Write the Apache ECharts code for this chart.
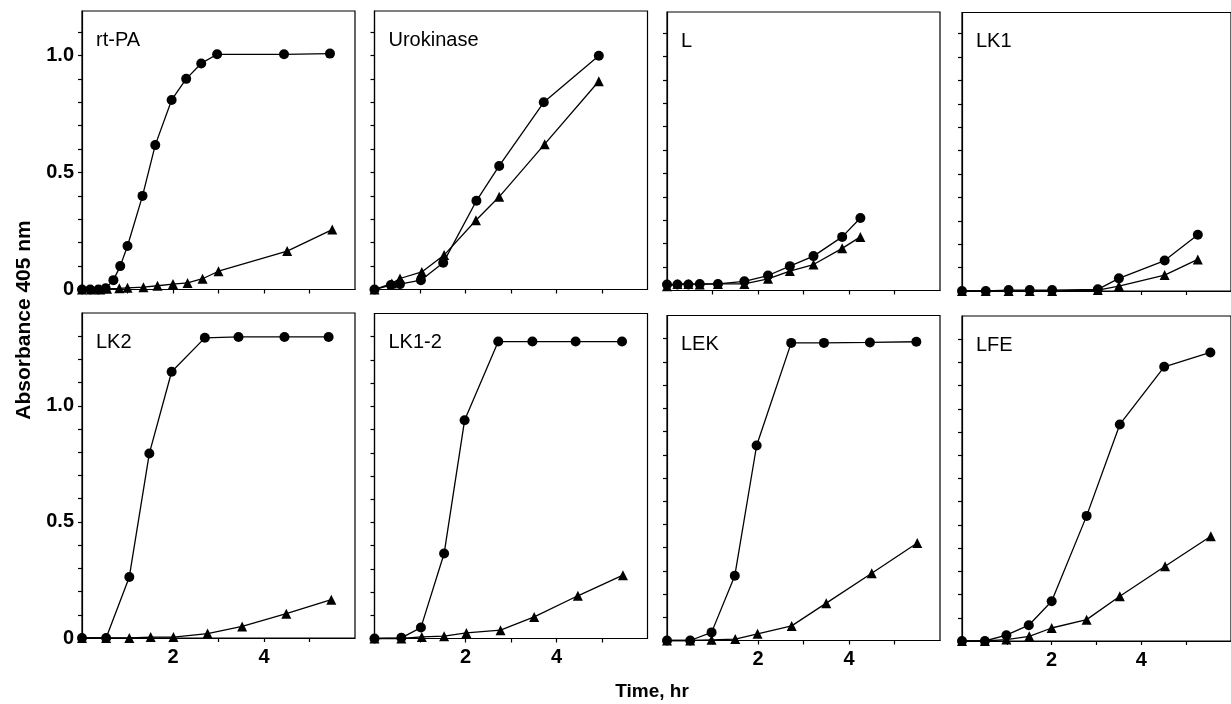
<!DOCTYPE html>
<html>
<head>
<meta charset="utf-8">
<title>Absorbance 405 nm vs time</title>
<script src="https://cdn.jsdelivr.net/npm/echarts@6.0.0/dist/echarts.min.js"></script>
<style>
  html, body { margin: 0; padding: 0; background: #fff; }
  #chart { width: 1231px; height: 704px; }
</style>
</head>
<body>
<div id="chart"></div>
<script>
// panel names, row by row
const panelNames = ['rt-PA', 'Urokinase', 'L', 'LK1', 'LK2', 'LK1-2', 'LEK', 'LFE'];

// time (hr) and absorbance, circles and triangles for each panel
const rtpaCircleT = [0, 0.18, 0.36, 0.52, 0.69, 0.84, 1.0, 1.33, 1.61, 1.97, 2.29, 2.62, 2.97, 4.44, 5.45];
const rtpaCircleV = [0, 0, 0, 0.005, 0.04, 0.10, 0.186, 0.40, 0.617, 0.81, 0.90, 0.966, 1.005, 1.005, 1.008];
const rtpaTriT = [0, 0.2, 0.4, 0.55, 0.82, 1.0, 1.35, 1.66, 2.0, 2.32, 2.65, 3.0, 4.51, 5.5];
const rtpaTriV = [0, 0, 0, 0.003, 0.005, 0.007, 0.01, 0.016, 0.023, 0.028, 0.046, 0.078, 0.164, 0.256];

const urokCircleT = [0, 0.36, 0.56, 1.02, 1.51, 2.24, 2.74, 3.72, 4.93];
const urokCircleV = [0, 0.019, 0.023, 0.04, 0.114, 0.379, 0.528, 0.80, 0.999];
const urokTriT = [0, 0.38, 0.56, 1.04, 1.53, 2.23, 2.74, 3.74, 4.93];
const urokTriV = [0, 0.026, 0.047, 0.075, 0.147, 0.296, 0.396, 0.621, 0.89];

const lCircleT = [0, 0.23, 0.47, 0.72, 1.12, 1.70, 2.22, 2.70, 3.22, 3.85, 4.25];
const lCircleV = [0.026, 0.026, 0.026, 0.028, 0.028, 0.039, 0.064, 0.104, 0.147, 0.229, 0.31];
const lTriT = [0, 0.23, 0.47, 0.72, 1.12, 1.70, 2.22, 2.70, 3.22, 3.85, 4.25];
const lTriV = [0.018, 0.028, 0.028, 0.026, 0.028, 0.028, 0.05, 0.083, 0.111, 0.18, 0.229];

const lk1CircleT = [0, 0.53, 1.04, 1.51, 2.01, 3.03, 3.5, 4.52, 5.26];
const lk1CircleV = [0, 0, 0.004, 0.004, 0.004, 0.007, 0.054, 0.13, 0.24];
const lk1TriT = [0, 0.53, 1.04, 1.51, 2.01, 3.03, 3.5, 4.52, 5.26];
const lk1TriV = [0, 0, 0, 0, 0, 0.004, 0.021, 0.068, 0.135];

const lk2CircleT = [0, 0.53, 1.04, 1.48, 1.97, 2.7, 3.44, 4.45, 5.42];
const lk2CircleV = [0, 0, 0.263, 0.795, 1.147, 1.293, 1.297, 1.297, 1.297];
const lk2TriT = [0, 0.53, 1.04, 1.51, 2.01, 2.76, 3.52, 4.49, 5.48];
const lk2TriV = [0, 0, 0, 0.004, 0.004, 0.019, 0.05, 0.105, 0.165];

const lk12CircleT = [0, 0.59, 1.02, 1.53, 1.98, 2.72, 3.47, 4.42, 5.44];
const lk12CircleV = [0, 0.003, 0.047, 0.366, 0.94, 1.279, 1.279, 1.279, 1.279];
const lk12TriT = [0, 0.59, 1.04, 1.53, 2.02, 2.77, 3.51, 4.47, 5.46];
const lk12TriV = [0, 0, 0.007, 0.01, 0.024, 0.036, 0.093, 0.184, 0.273];

const lekCircleT = [0, 0.51, 0.98, 1.49, 1.97, 2.73, 3.45, 4.46, 5.48];
const lekCircleV = [0, 0, 0.035, 0.279, 0.84, 1.282, 1.282, 1.284, 1.287];
const lekTriT = [0, 0.51, 0.98, 1.5, 1.99, 2.74, 3.5, 4.5, 5.5];
const lekTriV = [0, 0, 0.003, 0.006, 0.029, 0.063, 0.161, 0.29, 0.42];

const lfeCircleT = [0, 0.51, 0.99, 1.49, 2.0, 2.78, 3.52, 4.51, 5.54];
const lfeCircleV = [0, 0, 0.025, 0.068, 0.171, 0.539, 0.933, 1.181, 1.243];
const lfeTriT = [0, 0.51, 0.99, 1.5, 2.0, 2.78, 3.52, 4.53, 5.55];
const lfeTriV = [0, 0, 0.006, 0.02, 0.056, 0.092, 0.193, 0.322, 0.451];

// axis ticks and labels
const xTickValues = [1, 2, 3, 4, 5];
const xLabelValues = [2, 4];
const yTickTop = [0.1, 0.2, 0.3, 0.4, 0.5, 0.6, 0.7, 0.8, 0.9, 1.0, 1.1];
const yTickBottom = [0.1, 0.2, 0.3, 0.4, 0.5, 0.6, 0.7, 0.8, 0.9, 1.0, 1.1, 1.2, 1.3];
const yLabelValues = [0, 0.5, 1.0];

const panels = [
  [rtpaCircleT, rtpaCircleV, rtpaTriT, rtpaTriV],
  [urokCircleT, urokCircleV, urokTriT, urokTriV],
  [lCircleT, lCircleV, lTriT, lTriV],
  [lk1CircleT, lk1CircleV, lk1TriT, lk1TriV],
  [lk2CircleT, lk2CircleV, lk2TriT, lk2TriV],
  [lk12CircleT, lk12CircleV, lk12TriT, lk12TriV],
  [lekCircleT, lekCircleV, lekTriT, lekTriV],
  [lfeCircleT, lfeCircleV, lfeTriT, lfeTriV]
];

const FONT = '"Liberation Sans", Arial, Helvetica, sans-serif';
const colLeft = [82, 374.5, 667, 962];
const panelW = 273;
// baseline (y = 0) of each panel, the scan is a bit skewed
const rowBase = [[289.5, 289.5, 290.5, 291], [638, 638.5, 640.5, 641]];
const rowHeight = [278.5, 325];
const rowMax = [1.19, 1.4];

const zip = (a, b) => a.map((v, i) => [v, b[i]]);
const black = '#000';

const grids = [], xAxes = [], yAxes = [], series = [], titles = [];

panels.forEach((p, i) => {
  const row = Math.floor(i / 4);
  const col = i % 4;
  const base = rowBase[row][col];
  const h = rowHeight[row];

  grids.push({
    left: colLeft[col],
    top: base - h,
    width: panelW,
    height: h,
    show: true,
    borderColor: black,
    borderWidth: 1.2,
    backgroundColor: 'transparent'
  });

  xAxes.push({
    type: 'value',
    gridIndex: i,
    min: 0,
    max: 6,
    axisLine: { show: true, onZero: false, lineStyle: { color: black, width: 1.2 } },
    axisTick: { show: true, inside: false, length: 4, customValues: xTickValues, lineStyle: { color: black, width: 1.2 } },
    axisLabel: {
      show: row === 1,
      customValues: xLabelValues,
      color: black,
      fontSize: 20,
      fontWeight: 'bold',
      fontFamily: FONT,
      margin: 9
    },
    splitLine: { show: false }
  });

  yAxes.push({
    type: 'value',
    gridIndex: i,
    min: 0,
    max: rowMax[row],
    axisLine: { show: true, onZero: false, lineStyle: { color: black, width: 1.2 } },
    axisTick: { show: true, inside: false, length: 4, customValues: row === 0 ? yTickTop : yTickBottom, lineStyle: { color: black, width: 1.2 } },
    axisLabel: {
      show: col === 0,
      customValues: yLabelValues,
      color: black,
      fontSize: 20,
      fontWeight: 'bold',
      fontFamily: FONT,
      margin: 8,
      formatter: v => (v === 0 ? '0' : v.toFixed(1))
    },
    splitLine: { show: false }
  });

  series.push({
    type: 'line',
    xAxisIndex: i,
    yAxisIndex: i,
    data: zip(p[0], p[1]),
    symbol: 'circle',
    symbolSize: 10,
    clip: false,
    itemStyle: { color: black },
    lineStyle: { color: black, width: 1.3 }
  });
  series.push({
    type: 'line',
    xAxisIndex: i,
    yAxisIndex: i,
    data: zip(p[2], p[3]),
    symbol: 'triangle',
    symbolSize: 10,
    clip: false,
    itemStyle: { color: black },
    lineStyle: { color: black, width: 1.3 }
  });

  titles.push({
    text: panelNames[i],
    left: colLeft[col] + 14,
    top: base - h + 19,
    padding: 0,
    textStyle: { color: black, fontSize: 20, fontWeight: 'normal', fontFamily: FONT }
  });
});

const chart = echarts.init(document.getElementById('chart'), null, { renderer: 'canvas' });
chart.setOption({
  animation: false,
  backgroundColor: '#fff',
  title: titles,
  grid: grids,
  xAxis: xAxes,
  yAxis: yAxes,
  series: series,
  graphic: [
    {
      type: 'text',
      x: 24,
      y: 320,
      rotation: Math.PI / 2,
      style: {
        text: 'Absorbance 405 nm',
        fill: black,
        font: 'bold 21px ' + FONT,
        textAlign: 'center',
        textVerticalAlign: 'middle'
      }
    },
    {
      type: 'text',
      x: 652,
      y: 692,
      style: {
        text: 'Time, hr',
        fill: black,
        font: 'bold 19px ' + FONT,
        textAlign: 'center',
        textVerticalAlign: 'middle'
      }
    }
  ]
});
</script>
</body>
</html>
